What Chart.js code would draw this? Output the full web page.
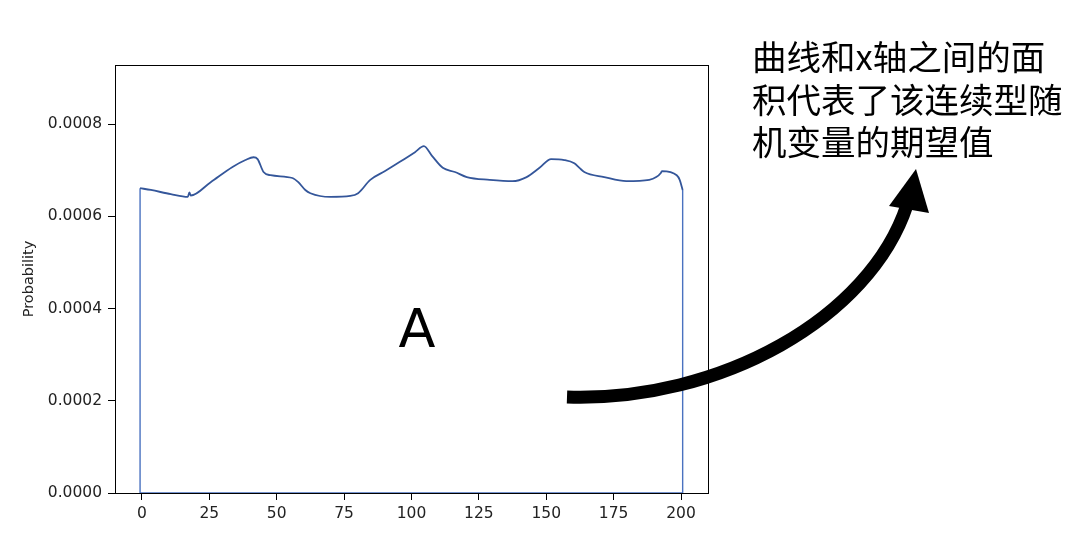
<!DOCTYPE html>
<html>
<head>
<meta charset="utf-8">
<script src="https://cdn.jsdelivr.net/npm/chart.js@4/dist/chart.umd.min.js"></script>
<style>
  html, body { margin: 0; padding: 0; background: #fff; }
  #wrap { width: 1082px; height: 550px; position: relative; }
</style>
</head>
<body>
<div id="wrap"><canvas id="canvas" width="1082" height="550"></canvas></div>
<script>
// x values of the density curve
const curveX = [
  -0.7, 3.3, 10.7, 17.0, 17.6, 18.1, 25.5, 33.6, 38.4, 41.4, 42.9, 45.1, 47.7,
  55.8, 58.0, 60.6, 62.5, 69.9, 77.3, 80.2, 84.7, 90.2, 95.7, 101.3, 104.6,
  107.6, 111.6, 116.1, 120.5, 129.0, 137.5, 142.7, 147.5, 151.8, 156.7, 160.4,
  162.3, 164.1, 171.5, 179.7, 188.2, 190.8, 192.5, 192.9, 198.4, 199.5, 200.6
];
// probability values of the curve
const curveY = [
  0.000661, 0.000657, 0.000648, 0.000642, 0.000652, 0.000645, 0.000674, 0.000707,
  0.000722, 0.000728, 0.000724, 0.000696, 0.000689, 0.000683, 0.000674, 0.000657,
  0.000650, 0.000642, 0.000644, 0.000650, 0.000679, 0.000698, 0.000718, 0.000739,
  0.000752, 0.000731, 0.000705, 0.000696, 0.000685, 0.000679, 0.000676, 0.000685,
  0.000705, 0.000724, 0.000722, 0.000715, 0.000705, 0.000696, 0.000685, 0.000676,
  0.000679, 0.000685, 0.000694, 0.000698, 0.000689, 0.000679, 0.000657
];
// outline: left edge, bottom, right edge
const edgeX = [-0.7, -0.7, 200.6, 200.6];
const edgeY = [0.000661, 0, 0, 0.000657];

const xTicks = [0, 25, 50, 75, 100, 125, 150, 175, 200];
const yTicks = [0, 0.0002, 0.0004, 0.0006, 0.0008];

const noteLines = ['曲线和x轴之间的面', '积代表了该连续型随', '机变量的期望值'];
const areaLabel = 'A';

const toPoints = (xs, ys) => xs.map((x, i) => ({ x: x, y: ys[i] }));

// frame, big label, note text and the curved arrow
const extras = {
  id: 'extras',
  afterDraw(chart) {
    const ctx = chart.ctx;
    const a = chart.chartArea;
    ctx.save();
    ctx.strokeStyle = '#000';
    ctx.lineWidth = 1;
    ctx.strokeRect(a.left + 0.5, a.top + 0.5, a.right - a.left, a.bottom - a.top);

    ctx.fillStyle = '#000';
    ctx.font = '54px "DejaVu Sans"';
    ctx.textAlign = 'center';
    ctx.textBaseline = 'alphabetic';
    ctx.fillText(areaLabel, chart.scales.x.getPixelForValue(102), 347);

    ctx.font = '34.5px "Noto Sans CJK SC"';
    ctx.textAlign = 'left';
    ctx.textBaseline = 'middle';
    noteLines.forEach((t, i) => ctx.fillText(t, 752, 57 + i * 42.5));

    // curved arrow
    ctx.lineWidth = 13;
    ctx.lineCap = 'butt';
    ctx.beginPath();
    ctx.moveTo(567, 397);
    ctx.bezierCurveTo(720, 402, 870, 318, 907, 205);
    ctx.stroke();
    ctx.beginPath();
    ctx.moveTo(916, 169);
    ctx.lineTo(929, 213);
    ctx.lineTo(889, 206);
    ctx.closePath();
    ctx.fill();
    ctx.restore();
  }
};

const data = {
  datasets: [
    {
      label: 'curve',
      data: toPoints(curveX, curveY),
      borderColor: '#34569a',
      borderWidth: 1.8,
      pointRadius: 0,
      cubicInterpolationMode: 'monotone',
      fill: false
    },
    {
      label: 'edges',
      data: toPoints(edgeX, edgeY),
      borderColor: '#4a72c0',
      borderWidth: 1.4,
      pointRadius: 0,
      tension: 0,
      fill: false
    }
  ]
};

const config = {
  type: 'line',
  data: data,
  plugins: [extras],
  options: {
    responsive: false,
    animation: false,
    layout: { padding: { left: 0, right: 374, top: 65, bottom: 0 } },
    plugins: { legend: { display: false }, tooltip: { enabled: false } },
    scales: {
      x: {
        type: 'linear',
        min: -10,
        max: 210,
        afterBuildTicks: s => { s.ticks = xTicks.map(v => ({ value: v })); },
        afterFit: s => { s.height = 57; },
        border: { display: false },
        grid: { drawOnChartArea: false, tickLength: 7, color: '#000' },
        ticks: {
          color: '#222',
          font: { family: 'DejaVu Sans', size: 15.5 },
          padding: 5,
          maxRotation: 0
        }
      },
      y: {
        min: 0,
        max: 0.000928,
        afterBuildTicks: s => { s.ticks = yTicks.map(v => ({ value: v })); },
        afterFit: s => { s.width = 115; },
        border: { display: false },
        grid: { drawOnChartArea: false, tickLength: 7, color: '#000' },
        ticks: {
          color: '#222',
          font: { family: 'DejaVu Sans', size: 15.5 },
          padding: 6,
          callback: v => v.toFixed(4)
        },
        title: {
          display: true,
          text: 'Probability',
          color: '#222',
          font: { family: 'DejaVu Sans', size: 14.5 },
          padding: { top: 21, bottom: 0 }
        }
      }
    }
  }
};

const canvas = document.getElementById('canvas');
const chart = new Chart(canvas, config);
</script>
</body>
</html>
